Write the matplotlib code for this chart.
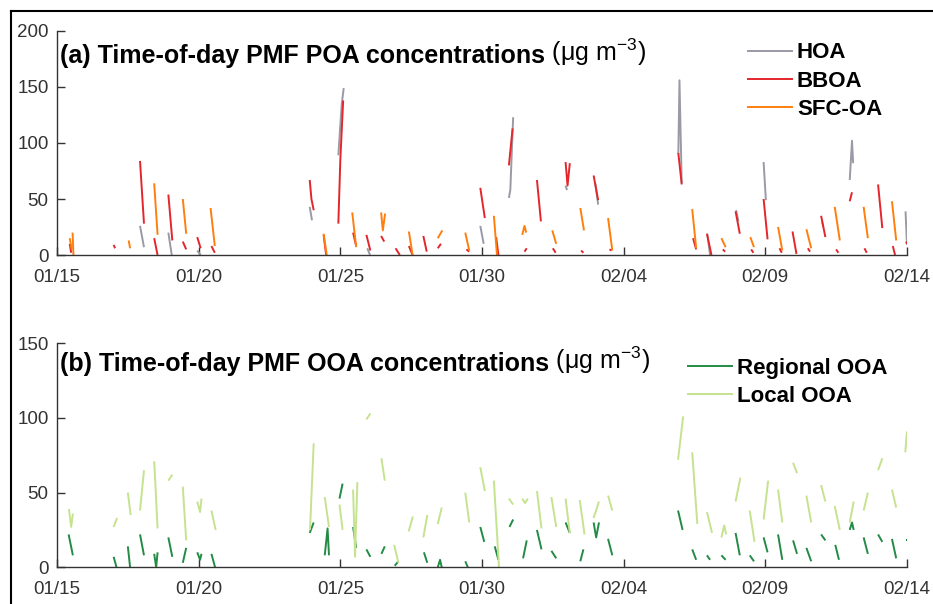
import matplotlib
matplotlib.use("Agg")
import matplotlib.pyplot as plt
from matplotlib.lines import Line2D

plt.rcParams['font.family'] = ['Liberation Sans', 'DejaVu Sans']
plt.rcParams['mathtext.default'] = 'regular'

# x = day counted from 1 January (February days are 31 + day)
tick_days = [15, 20, 25, 30, 35, 40, 45]
tick_labels = ['01/15', '01/20', '01/25', '01/30', '02/04', '02/09', '02/14']

# each segment is a list of (day, concentration) points, ug m-3
hoa = [
    [(17.93, 26), (18.07, 7)], [(18.93, 20), (19.05, 0)], [(19.95, 4), (20.07, 0)],
    [(23.92, 43), (24.0, 31)], [(24.93, 89), (25.05, 135), (25.12, 149)],
    [(25.95, 6), (26.05, 0)], [(29.94, 26), (30.06, 10)],
    [(30.95, 51), (31.0, 58), (31.1, 123)], [(32.95, 62), (33.0, 58)],
    [(34.0, 64), (34.1, 45)], [(36.93, 90), (36.97, 156), (37.05, 64)],
    [(37.95, 19), (38.05, 0)], [(38.97, 40), (39.05, 30)], [(39.94, 83), (40.02, 49)],
    [(42.0, 30), (42.05, 25)], [(42.98, 67), (43.06, 102), (43.1, 82)],
    [(44.95, 39), (45.0, 9)],
]
bboa = [
    [(15.45, 10), (15.5, 2)], [(17.0, 9), (17.05, 6)], [(17.93, 84), (18.07, 28)],
    [(18.43, 15), (18.55, 0)], [(18.93, 54), (19.07, 13)], [(19.44, 12), (19.56, 5)],
    [(19.95, 16), (20.07, 6)], [(20.45, 8), (20.57, 2)],
    [(23.92, 67), (23.98, 50), (24.06, 40)], [(24.41, 18), (24.5, 0)],
    [(24.93, 28), (25.0, 85), (25.1, 138)], [(25.45, 20), (25.56, 8)],
    [(25.92, 18), (26.06, 4)], [(26.44, 17), (26.55, 12)], [(26.95, 6), (27.1, 0)],
    [(27.42, 8), (27.55, 0)], [(27.93, 17), (28.05, 3)], [(28.44, 6), (28.55, 10)],
    [(29.45, 5), (29.55, 3)], [(29.94, 60), (30.1, 33)], [(30.5, 16), (30.58, 0)],
    [(30.95, 80), (31.08, 113)], [(31.5, 3), (31.58, 6)], [(31.94, 67), (32.08, 30)],
    [(32.5, 6), (32.6, 2)], [(32.95, 83), (33.02, 62), (33.1, 82)],
    [(33.5, 4), (33.58, 2)], [(33.94, 71), (34.1, 49)], [(34.5, 5), (34.58, 4)],
    [(36.93, 91), (37.05, 63)], [(37.45, 15), (37.56, 5)], [(37.94, 19), (38.1, 0)],
    [(38.5, 5), (38.58, 3)], [(38.95, 39), (39.1, 19)], [(39.5, 5), (39.58, 2)],
    [(39.94, 50), (40.08, 14)], [(40.5, 6), (40.58, 2)], [(40.96, 21), (41.1, 1)],
    [(41.5, 6), (41.58, 3)], [(41.97, 35), (42.12, 16)], [(42.5, 5), (42.58, 2)],
    [(42.98, 48), (43.06, 56)], [(43.5, 6), (43.58, 2)], [(43.98, 63), (44.13, 24)],
    [(44.5, 8), (44.58, 0)], [(44.97, 12), (45.0, 10)],
]
sfc_oa = [
    [(15.45, 15), (15.52, 5)], [(15.55, 20), (15.58, 0)], [(17.53, 13), (17.58, 6)],
    [(18.43, 64), (18.55, 18)], [(19.44, 50), (19.56, 19)], [(20.42, 42), (20.57, 8)],
    [(24.41, 19), (24.52, 0)], [(25.42, 38), (25.56, 7)],
    [(26.44, 38), (26.5, 22), (26.58, 37)], [(27.42, 21), (27.55, 0)],
    [(28.44, 15), (28.6, 22)], [(29.41, 20), (29.55, 4)], [(30.42, 35), (30.53, 0)],
    [(31.42, 18), (31.5, 26), (31.56, 20)], [(32.48, 22), (32.62, 10)],
    [(33.47, 42), (33.6, 22)], [(34.45, 33), (34.6, 4)], [(37.42, 41), (37.56, 6)],
    [(38.45, 15), (38.6, 7)], [(39.47, 16), (39.6, 7)], [(40.45, 25), (40.6, 4)],
    [(41.45, 23), (41.62, 6)], [(42.45, 43), (42.63, 13)], [(43.47, 43), (43.62, 15)],
    [(44.47, 48), (44.62, 13)],
]
regional_ooa = [
    [(15.41, 22), (15.56, 8)], [(17.0, 7), (17.1, 0)], [(17.5, 14), (17.58, 0)],
    [(17.93, 22), (18.07, 8)], [(18.43, 9), (18.5, 0), (18.55, 10)],
    [(18.93, 20), (19.07, 7)], [(19.44, 3), (19.56, 13)],
    [(19.95, 10), (20.05, 5), (20.1, 9)], [(20.45, 9), (20.58, 0)],
    [(23.92, 23), (24.06, 30)], [(24.45, 8), (24.55, 26), (24.6, 8)],
    [(24.97, 46), (25.08, 56)], [(25.45, 27), (25.56, 13)], [(25.92, 12), (26.06, 7)],
    [(26.45, 9), (26.57, 14)], [(26.92, 1), (27.05, 4)], [(27.95, 10), (28.07, 3)],
    [(28.44, 0), (28.52, 5), (28.58, 0)], [(29.41, 4), (29.5, 0)],
    [(29.94, 27), (30.08, 17)], [(30.45, 14), (30.58, 5)], [(30.97, 27), (31.1, 32)],
    [(31.45, 6), (31.58, 18)], [(31.94, 25), (32.1, 12)], [(32.45, 11), (32.62, 6)],
    [(32.95, 30), (33.1, 23)], [(33.47, 4), (33.58, 12)],
    [(33.94, 30), (34.03, 20), (34.13, 30)], [(34.45, 19), (34.6, 8)],
    [(36.92, 38), (37.08, 25)], [(37.42, 12), (37.56, 5)], [(37.94, 8), (38.05, 5)],
    [(38.45, 8), (38.6, 5)], [(38.95, 23), (39.1, 8)], [(39.45, 8), (39.6, 4)],
    [(39.94, 20), (40.08, 10)], [(40.45, 22), (40.6, 5)], [(40.98, 18), (41.12, 9)],
    [(41.45, 13), (41.62, 4)], [(41.97, 22), (42.12, 18)], [(42.47, 15), (42.6, 5)],
    [(42.98, 25), (43.06, 30), (43.12, 25)], [(43.47, 20), (43.62, 9)],
    [(43.98, 22), (44.13, 17)], [(44.47, 19), (44.62, 6)], [(44.97, 18), (45.0, 18)],
]
local_ooa = [
    [(15.42, 39), (15.5, 27), (15.56, 36)], [(17.0, 27), (17.12, 33)],
    [(17.5, 50), (17.6, 35)], [(17.93, 38), (18.07, 65)], [(18.43, 71), (18.55, 26)],
    [(18.93, 58), (19.07, 62)], [(19.44, 54), (19.56, 18)],
    [(19.95, 44), (20.05, 37), (20.1, 46)], [(20.45, 38), (20.6, 25)],
    [(23.93, 25), (24.06, 83)], [(24.45, 47), (24.6, 27)], [(24.97, 42), (25.08, 25)],
    [(25.45, 52), (25.52, 7), (25.6, 57)], [(25.92, 99), (26.06, 103)],
    [(26.45, 73), (26.57, 58)], [(26.9, 15), (27.05, 3)], [(27.41, 24), (27.56, 34)],
    [(27.93, 20), (28.07, 35)], [(28.44, 29), (28.58, 40)], [(29.41, 50), (29.55, 30)],
    [(29.94, 67), (30.1, 51)], [(30.42, 58), (30.6, 0)], [(30.95, 46), (31.1, 42)],
    [(31.42, 46), (31.52, 43), (31.62, 46)], [(31.94, 51), (32.1, 26)],
    [(32.45, 47), (32.62, 27)], [(32.95, 46), (33.1, 23)], [(33.45, 45), (33.62, 22)],
    [(33.94, 33), (34.13, 44)], [(34.45, 48), (34.6, 38)], [(36.92, 72), (37.1, 101)],
    [(37.42, 77), (37.6, 29)], [(37.94, 37), (38.12, 23)],
    [(38.45, 20), (38.55, 28), (38.62, 22)], [(38.95, 44), (39.12, 60)],
    [(39.45, 38), (39.62, 17)], [(39.94, 32), (40.1, 58)], [(40.45, 52), (40.6, 30)],
    [(40.98, 70), (41.12, 63)], [(41.45, 48), (41.62, 30)], [(41.97, 55), (42.12, 44)],
    [(42.45, 41), (42.63, 25)], [(42.98, 30), (43.12, 44)], [(43.47, 38), (43.62, 50)],
    [(43.98, 65), (44.13, 73)], [(44.47, 52), (44.62, 40)], [(44.94, 77), (45.0, 91)],
]

poa_series = [('HOA', hoa, '#9a9aa6'), ('BBOA', bboa, '#e3262b'),
              ('SFC-OA', sfc_oa, '#ff7f0e')]
ooa_series = [('Regional OOA', regional_ooa, '#238b45'),
              ('Local OOA', local_ooa, '#c5e38f')]

axis_col = '#333333'


def setup(ax, ymax, yticks):
    ax.set_xlim(15, 45)
    ax.set_ylim(0, ymax)
    ax.set_xticks(tick_days)
    ax.set_xticklabels(tick_labels)
    ax.set_yticks(yticks)
    for s in ('top', 'right'):
        ax.spines[s].set_visible(False)
    for s in ('left', 'bottom'):
        ax.spines[s].set_color(axis_col)
        ax.spines[s].set_linewidth(1.0)
    ax.tick_params(direction='in', length=6, width=1.0, color=axis_col,
                   labelcolor=axis_col, labelsize=13.5)
    ax.tick_params(axis='x', pad=10)
    ax.tick_params(axis='y', pad=6)


def draw(ax, series):
    handles = []
    for name, segs, col in series:
        for seg in segs:
            xs = [p[0] for p in seg]
            ys = [p[1] for p in seg]
            ax.plot(xs, ys, color=col, lw=1.4, solid_capstyle='butt')
        handles.append(Line2D([], [], color=col, lw=1.4, label=name))
    return handles


fig = plt.figure(figsize=(9.33, 6.04), dpi=100)
ax1 = fig.add_axes([0.0611, 0.5778, 0.911, 0.3709])
ax2 = fig.add_axes([0.0611, 0.0608, 0.911, 0.3709])

h1 = draw(ax1, poa_series)
h2 = draw(ax2, ooa_series)
setup(ax1, 200, [0, 50, 100, 150, 200])
setup(ax2, 150, [0, 50, 100, 150])

for ax, txt, y in ((ax1, '(a) Time-of-day PMF POA concentrations', 0.907),
                   (ax2, '(b) Time-of-day PMF OOA concentrations', 0.398)):
    t = fig.text(0.0643, y, txt, fontsize=18, fontweight='bold', va='center',
                 ha='left')
    ax.annotate(' (\u03bcg m$^{-3}$)', xy=(1, 0), xycoords=t, va='bottom',
                ha='left', fontsize=18, annotation_clip=False)

leg_kw = dict(bbox_transform=fig.transFigure, frameon=False, loc='upper left',
              prop={'weight': 'bold', 'size': 16}, handlelength=2.0,
              handletextpad=0.2, labelspacing=0.33, borderpad=0,
              borderaxespad=0)
ax1.legend(handles=h1, bbox_to_anchor=(0.8017, 0.930), **leg_kw)
ax2.legend(handles=h2, bbox_to_anchor=(0.7374, 0.4075), **leg_kw)

# outer frame (left and top edges visible)
fig.add_artist(Line2D([10.5 / 933, 10.5 / 933], [0, 1 - 10.5 / 604],
                      color='black', lw=1.5, transform=fig.transFigure))
fig.add_artist(Line2D([10.5 / 933, 1], [1 - 10.5 / 604, 1 - 10.5 / 604],
                      color='black', lw=1.5, transform=fig.transFigure))

fig.savefig('out.png', dpi=100)
